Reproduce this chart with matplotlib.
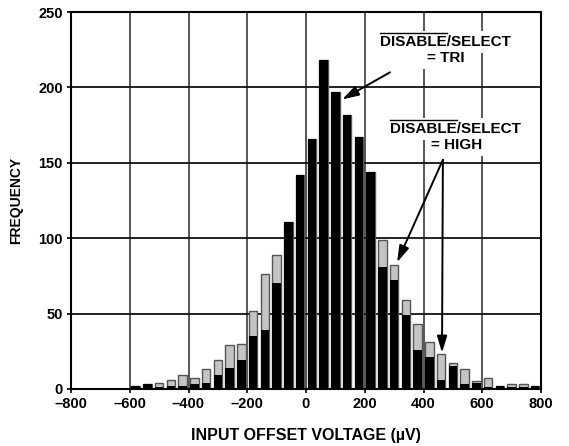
import numpy as np
import matplotlib
matplotlib.use("Agg")
import matplotlib.pyplot as plt

plt.rcParams['font.family'] = ['Liberation Sans', 'DejaVu Sans']
plt.rcParams['font.weight'] = 'bold'

# Bin centres (uV) and counts
bin_centers = np.arange(-580, 800, 40)
freq_tri = [2, 3, 1, 2, 2, 3, 4, 9, 14, 19, 35, 39, 70, 111, 142, 166, 218,
            197, 182, 167, 144, 81, 72, 49, 26, 21, 6, 15, 3, 4, 1, 2, 1, 1, 2]
freq_high = [2, 3, 4, 6, 9, 7, 13, 19, 29, 30, 52, 76, 89, 111, 142, 166, 218,
             197, 182, 167, 144, 99, 82, 59, 43, 31, 23, 17, 13, 5, 7, 2, 3, 3, 2]

x_ticks = [-800, -600, -400, -200, 0, 200, 400, 600, 800]
x_ticklabels = ['\u2013800', '\u2013600', '\u2013400', '\u2013200', '0', '200', '400', '600', '800']
y_ticks = [0, 50, 100, 150, 200, 250]

fig = plt.figure(figsize=(5.69, 4.46), dpi=100)
ax = fig.add_axes([71 / 569, 1 - 389 / 446, 470 / 569, 377 / 446])

# grid drawn by hand so it sits under the bars
for xv in x_ticks[1:-1]:
    ax.axvline(xv, color='#4a4a4a', lw=1.3, zorder=0.5)
for yv in y_ticks[1:-1]:
    ax.axhline(yv, color='#111111', lw=1.3, zorder=0.5)

ax.bar(bin_centers, freq_high, width=29, color='#c4c4c4', edgecolor='#555555',
       linewidth=1.0, zorder=2)
ax.bar(bin_centers, freq_tri, width=29, color='black', linewidth=0, zorder=3)

ax.set_xlim(-800, 800)
ax.set_ylim(0, 250)
ax.set_xticks(x_ticks)
ax.set_xticklabels(x_ticklabels)
ax.set_yticks(y_ticks)
ax.tick_params(axis='both', direction='out', length=3, width=1.2, labelsize=10.5, pad=3)
for lab in ax.get_xticklabels() + ax.get_yticklabels():
    lab.set_fontweight('bold')
for sp in ax.spines.values():
    sp.set_linewidth(1.5)

ax.set_xlabel('INPUT OFFSET VOLTAGE (\u00b5V)', fontsize=11.5, fontweight='bold', labelpad=12)
ax.set_ylabel('FREQUENCY', fontsize=10, fontweight='bold', labelpad=11)

box = dict(fc='white', ec='none', pad=3)
labels = [
    (475, 230, 'DISABLE/SELECT', True),
    (475, 219.5, '= TRI', False),
    (510, 172.5, 'DISABLE/SELECT', True),
    (513, 162, '= HIGH', False),
]
fig.canvas.draw()
renderer = fig.canvas.get_renderer()
for x, y, s, over in labels:
    t = ax.text(x, y, s, ha='center', va='center', fontsize=11, fontweight='bold',
                bbox=box, zorder=4)
    if over:
        # overline above "DISABLE"
        bb = t.get_window_extent(renderer)
        tmp = ax.text(0, 0, 'DISABLE', fontsize=11, fontweight='bold')
        w = tmp.get_window_extent(renderer).width
        tmp.remove()
        inv = ax.transData.inverted()
        (x0, y0) = inv.transform((bb.x0, bb.y1 + 2))
        (x1, _) = inv.transform((bb.x0 + w, bb.y1 + 2))
        ax.plot([x0, x1], [y0, y0], color='black', lw=1.0, zorder=5, clip_on=False)

arrow = dict(arrowstyle='-|>,head_length=1.0,head_width=0.3', color='black', lw=1.4,
             shrinkA=0, shrinkB=0)
ax.annotate('', xy=(123, 192), xytext=(286, 210), arrowprops=arrow, zorder=5)
ax.annotate('', xy=(310, 84), xytext=(466, 152), arrowprops=arrow, zorder=5)
ax.annotate('', xy=(463, 24), xytext=(466, 152), arrowprops=arrow, zorder=5)

fig.savefig('out.png', dpi=100)
